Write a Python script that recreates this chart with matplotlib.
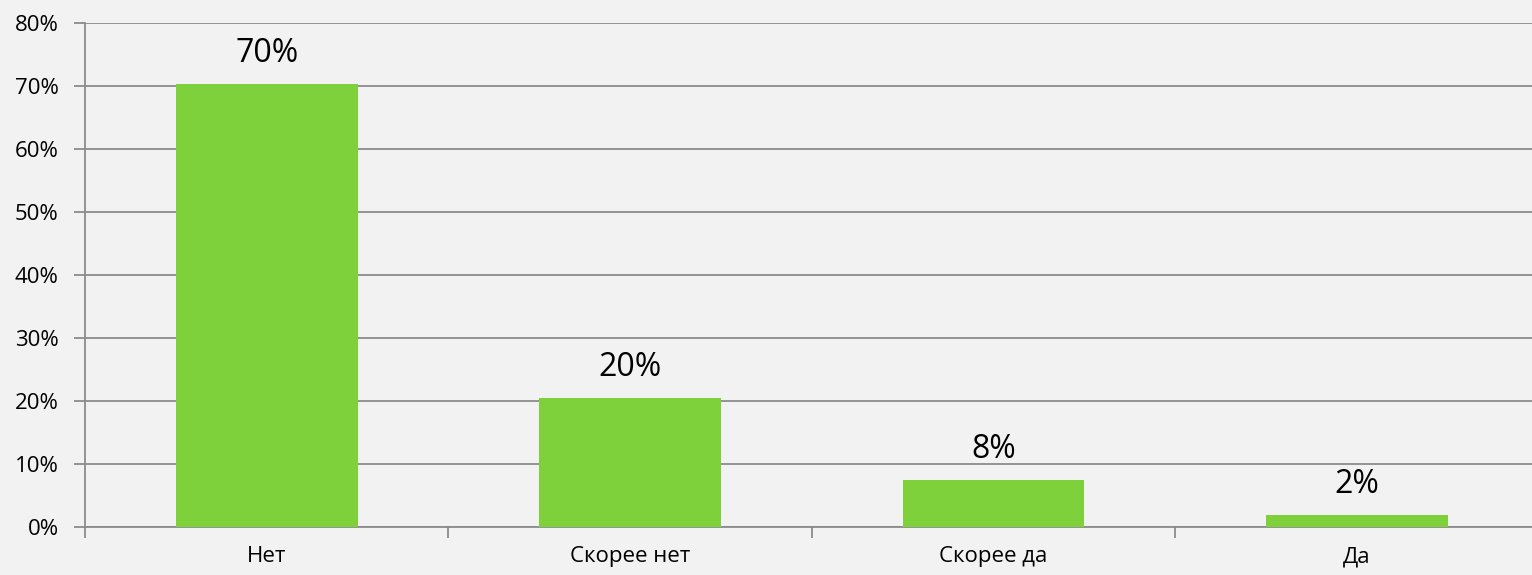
import matplotlib.pyplot as plt
import numpy as np
from matplotlib.ticker import FixedLocator, PercentFormatter

categories = ["Нет", "Скорее нет", "Скорее да", "Да"]
values = [70.3, 20.4, 7.5, 1.9]
labels = ["70%", "20%", "8%", "2%"]
yticks = [0, 10, 20, 30, 40, 50, 60, 70, 80]

plt.rcParams['font.family'] = ['Open Sans', 'DejaVu Sans']

bg = '#f2f2f2'
green = '#7fd13b'
gray = '#8c8c8c'

fig = plt.figure(figsize=(15.32, 5.75), dpi=100, facecolor=bg)
W, H = 1532, 575
ax = fig.add_axes([85 / W, 48 / H, 1453.5 / W, 504 / H], facecolor=bg)

x = np.arange(len(categories))
ax.bar(x, values, width=0.5, color=green, zorder=3)

# value labels above the bars
for xi, v, lab in zip(x, values, labels):
    ax.annotate(lab, (xi, v), xytext=(0, 16), textcoords='offset points',
                ha='center', va='baseline', fontsize=23, color='black')

ax.set_xlim(-0.5, len(categories) - 0.5)
ax.set_ylim(0, 80)
ax.set_yticks(yticks)
ax.yaxis.set_major_formatter(PercentFormatter(decimals=0))
ax.grid(axis='y', color=gray, linewidth=1.3, zorder=0)

ax.set_xticks(x)
ax.set_xticklabels(categories)
ax.xaxis.set_minor_locator(FixedLocator(np.arange(-0.5, len(categories), 1)))
ax.tick_params(axis='x', which='major', length=0, pad=14, labelsize=16)
ax.tick_params(axis='x', which='minor', length=8, width=1.3, color=gray)
ax.tick_params(axis='y', length=8, width=1.3, color=gray, labelsize=16, pad=11)

for s in ['top', 'right']:
    ax.spines[s].set_visible(False)
for s in ['left', 'bottom']:
    ax.spines[s].set_color(gray)
    ax.spines[s].set_linewidth(1.3)

fig.savefig('out.png', dpi=100, facecolor=bg)
